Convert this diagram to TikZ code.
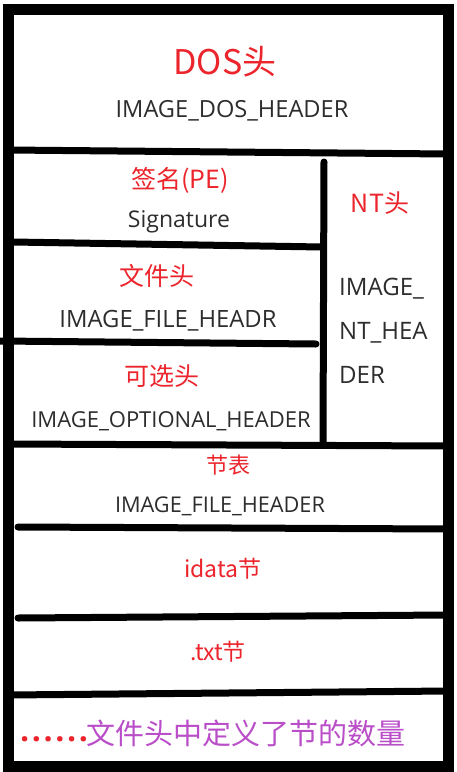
\documentclass[tikz,border=0pt]{standalone}
\usepackage{fontspec}
\setmainfont{Open Sans}
\newfontfamily\cjk{Noto Sans CJK SC}
\definecolor{labelred}{RGB}{236,36,44}
\definecolor{textgray}{RGB}{45,45,45}
\definecolor{notepurple}{RGB}{186,78,200}
\newcommand{\fs}[1]{\fontsize{#1}{#1}\selectfont}
\tikzset{
  frame/.style={draw=black, line width=11pt},
  divider/.style={draw=black, line width=7pt, line cap=round},
  title/.style={text=labelred, inner sep=0pt, font=\cjk\fs{25}},
  bigtitle/.style={text=labelred, inner sep=0pt, font=\cjk\fs{34}},
  struct/.style={text=textgray, inner sep=0pt, font=\fs{23}},
}
\begin{document}
\begin{tikzpicture}[x=1pt,y=-1pt]
\useasboundingbox (0,0) rectangle (456,772);
\fill[white] (0,0) rectangle (456,772);

% outer frame
\draw[frame] (8,9) rectangle (448,766);

% horizontal dividers
\draw[divider, line cap=butt] (8,150) -- (448,154);
\draw[divider] (13,242) -- (322,247);
\draw[divider] (0,341) -- (316,344);
\draw[divider, line cap=butt] (8,444) -- (448,446);
\draw[divider] (18,527) -- (448,529);
\draw[divider] (18,618) -- (448,615);
\draw[divider, line cap=butt] (8,695) -- (448,691);
% NT header column
\draw[divider] (324,162) -- (323,442);

% DOS header
\node[bigtitle] (dos) at (225,62) {DOS头};
\node[struct, font=\fs{23.6}] (doshdr) at (232,111) {IMAGE\_DOS\_HEADER};

% signature
\node[title] (sig) at (180,180) {签名(PE)};
\node[struct] (sighdr) at (179,222) {Signature};

% NT headers
\node[title] (nt) at (380,203) {NT头};
\node[struct, font=\fs{24}, anchor=west] (nt1) at (339,289) {IMAGE\_};
\node[struct, font=\fs{24}, anchor=west] (nt2) at (339,333) {NT\_HEA};
\node[struct, font=\fs{24}, anchor=west] (nt3) at (339,375) {DER};

% file header
\node[title] (file) at (157,276) {文件头};
\node[struct, font=\fs{23.8}] (filehdr) at (168,321) {IMAGE\_FILE\_HEADR};

% optional header
\node[title] (opt) at (162,376) {可选头};
\node[struct, font=\fs{22}] (opthdr) at (171,421) {IMAGE\_OPTIONAL\_HEADER};

% section table
\node[title, font=\cjk\fs{22}] (sect) at (228,465) {节表};
\node[struct, font=\fs{21.7}] (secthdr) at (220,506) {IMAGE\_FILE\_HEADER};

% sections
\node[title, font=\cjk\fs{23}] (idata) at (223,569) {idata节};
\node[title, font=\cjk\fs{23}] (txt) at (218,652) {.txt节};

% note on the number of sections
\node[text=labelred, inner sep=0pt, anchor=base west, font=\bfseries\fs{32}] (dots) at (20,741)
  {.\hspace{2.6pt}.\hspace{2.6pt}.\hspace{2.6pt}.\hspace{2.6pt}.\hspace{2.6pt}.};
\node[text=notepurple, inner sep=0pt, font=\cjk\fs{29}] (note) at (246,733)
  {文件头中定义了节的数量};
\end{tikzpicture}
\end{document}
